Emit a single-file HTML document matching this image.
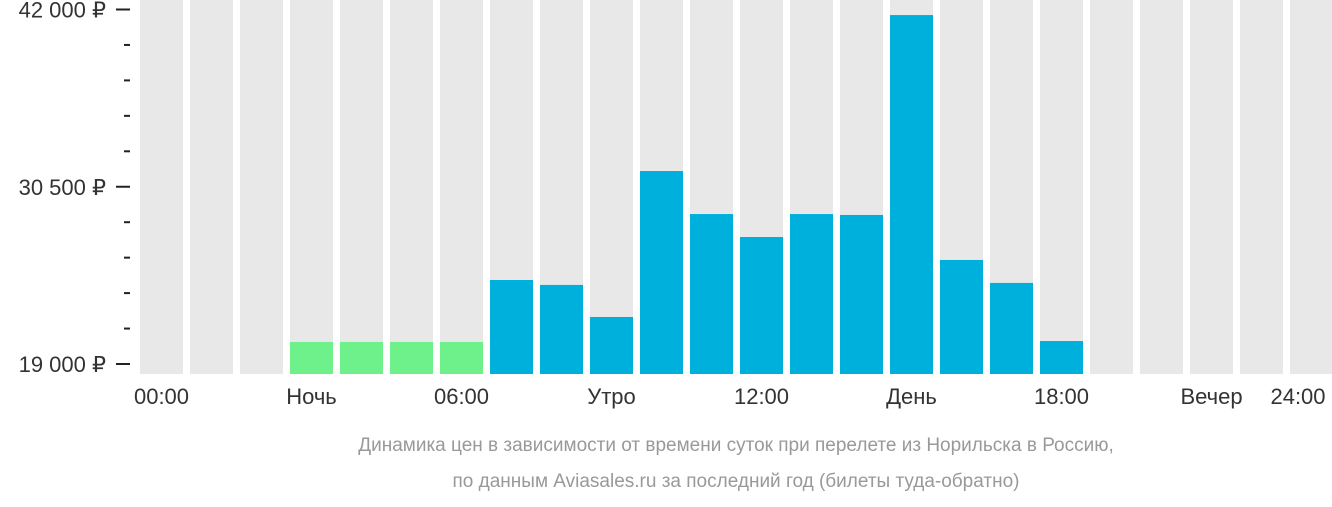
<!DOCTYPE html>
<html><head><meta charset="utf-8"><style>
body{margin:0;background:#fff;width:1332px;height:502px;overflow:hidden;font-family:"Liberation Sans",sans-serif}
</style></head><body>
<svg width="1332" height="502" id="chart">
<g id="bars"></g><g id="yaxis"></g><g id="xaxis"></g>
<text x="736" y="451" text-anchor="middle" font-size="19" fill="#999">Динамика цен в зависимости от времени суток при перелете из Норильска в Россию,</text>
<text x="736" y="487" text-anchor="middle" font-size="19" fill="#999">по данным Aviasales.ru за последний год (билеты туда-обратно)</text>
</svg>
<script>
const hours = Array.from({length:24},(_,i)=>i);
const prices = [0,0,0,20430,20430,20430,20430,24450,24130,22050,31520,28730,27240,28730,28670,41640,25750,24260,20490,0,0,0,0,0];
const cheap = [3,4,5,6];
const yTickValues = [19000,30500,42000];
const yTickLabels = ["19 000 ₽","30 500 ₽","42 000 ₽"];
const xLabels = ["00:00","Ночь","06:00","Утро","12:00","День","18:00","Вечер","24:00"];
const NS="http://www.w3.org/2000/svg";
const yMin=19000,yMax=42000,y0=364,y1=9.5;
const y=v=>y0-(v-yMin)*(y0-y1)/(yMax-yMin);
const x=i=>140+i*50;
const bw=43,bottom=374;
function mk(t,a,p){const e=document.createElementNS(NS,t);for(const k in a)e.setAttribute(k,a[k]);p.appendChild(e);return e;}
const bars=document.getElementById('bars');
hours.forEach(i=>{
  const bg=mk('rect',{x:x(i),y:0,width:bw,height:bottom,fill:'#e8e8e8'},bars);
  
  
  if(prices[i]>0){
    const top=y(prices[i]);
    const r=mk('rect',{x:x(i),y:top,width:bw,height:bottom-top,fill:cheap.includes(i)?'#6ef08a':'#00b0dc'},bars);
    
    
  }
});
const ya=document.getElementById('yaxis');
yTickValues.forEach((v,k)=>{
  const l=mk('rect',{x:116,y:y(v)-1,width:14,height:2,fill:'#222'},ya);
  
  
  const t=mk('text',{x:106,y:y(v)+8,'text-anchor':'end','font-size':22,fill:'#333'},ya);
  t.textContent=yTickLabels[k];
  
  
  if(k<yTickValues.length-1){
    const step=(yTickValues[k+1]-v)/5;
    for(let j=1;j<5;j++){
      const m=mk('rect',{x:124,y:y(v+step*j)-1,width:6,height:2,fill:'#222'},ya);
      
      
    }
  }
});
const xa=document.getElementById('xaxis');
xLabels.forEach((s,k)=>{
  const cx=k<8?x(k*3)+bw/2:1298;
  const t=mk('text',{x:cx,y:404,'text-anchor':'middle','font-size':22,fill:'#333'},xa);
  t.textContent=s;
  
  
});
</script>
</body></html>
